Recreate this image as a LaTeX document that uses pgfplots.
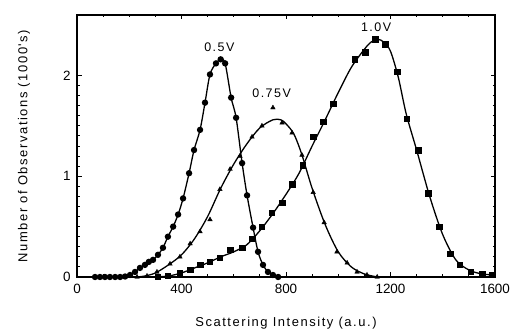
\documentclass[border=0pt]{standalone}
\usepackage{pgfplots}
\pgfplotsset{compat=1.18}
\usepackage{fontspec}
\setmainfont{Liberation Sans}
\newfontfamily\labfont[LetterSpace=12]{Liberation Sans}
\begin{document}
\begin{tikzpicture}[x=1bp,y=1bp]
\begin{axis}[
  scale only axis, width=418bp, height=262bp,
  xmin=0, xmax=1600, ymin=0, ymax=2.6,
  xtick={0,400,800,1200,1600}, ytick={0,1,2},
  minor x tick num=3, minor y tick num=9,
  tick align=inside, major tick length=4.5bp, minor tick length=2.5bp,
  tick style={line width=0.9bp,black},
  axis line style={line width=1.4bp},
  xticklabel style={font=\fontsize{13.5}{15}\selectfont, yshift=-4bp},
  yticklabel style={font=\fontsize{13.5}{15}\selectfont, xshift=-3bp},
  /pgf/number format/assume math mode=true,
  /pgf/number format/set thousands separator={},
  xlabel={Scattering Intensity (a.u.)},
  ylabel={Number of Observations (1000's)},
  xlabel style={font=\labfont\fontsize{13}{15}\selectfont, yshift=-16bp},
  ylabel style={font=\labfont\fontsize{13}{15}\selectfont, yshift=26bp},
  clip=false,
]
% 0.5 V : circles with smooth curve
\addplot[black, line width=1.3bp, smooth, mark=*, mark size=2.5bp] coordinates {
(69,0) (88,0) (107,0) (126,0) (146,0) (165,0) (184,0.005) (203,0.02) (222,0.05)
(241,0.09) (260,0.12) (275,0.15) (291,0.17) (310,0.22) (329,0.29) (348,0.40)
(368,0.50) (387,0.62) (406,0.78) (429,1.03) (448,1.26) (471,1.46) (490,1.73)
(509,2.01) (532,2.12) (550,2.16) (567,2.12) (590,1.78) (609,1.58) (632,1.13)
(651,0.81) (674,0.49) (693,0.25) (712,0.12) (731,0.05) (750,0.02) (770,0)
};
% 0.75 V : fitted curve
\addplot[black, line width=1.3bp, smooth] coordinates {
(230,0) (260,0.01) (300,0.04) (350,0.12) (400,0.22) (450,0.38) (500,0.60)
(550,0.88) (600,1.12) (650,1.32) (700,1.48) (750,1.56) (780,1.56) (800,1.52)
(830,1.42) (860,1.22) (900,0.88) (950,0.52) (1000,0.25) (1050,0.10)
(1100,0.03) (1150,0.0) (1160,0)
};
% 0.75 V : observations
\addplot[black, only marks, mark=triangle*, mark size=2.6bp] coordinates {
(230,0) (268,0.01) (306,0.05) (356,0.13) (394,0.20) (433,0.33) (471,0.45)
(509,0.57) (547,0.87) (586,1.07) (624,1.20) (670,1.39) (708,1.50) (750,1.68)
(785,1.53) (823,1.43) (861,1.21) (904,0.84) (946,0.54) (995,0.25) (1034,0.14)
(1072,0.05) (1110,0.02) (1149,0)
};
% 1.0 V : fitted curve
\addplot[black, line width=1.3bp, smooth] coordinates {
(300,0) (350,0.01) (400,0.04) (450,0.09) (500,0.14) (550,0.20) (600,0.25)
(650,0.32) (700,0.46) (750,0.63) (800,0.82) (850,1.03) (900,1.30) (950,1.56)
(1000,1.83) (1050,2.08) (1100,2.26) (1125,2.33) (1150,2.36) (1175,2.33)
(1200,2.24) (1230,1.98) (1260,1.62) (1300,1.26) (1350,0.80) (1400,0.42)
(1450,0.17) (1500,0.07) (1550,0.03) (1600,0.02)
};
% 1.0 V : observations
\addplot[black, only marks, mark=square*, mark size=2.7bp] coordinates {
(310,0) (348,0.01) (394,0.04) (433,0.07) (471,0.12) (509,0.15) (547,0.19)
(586,0.27) (632,0.29) (670,0.38) (708,0.50) (746,0.64) (785,0.74) (823,0.92)
(865,1.11) (904,1.39) (942,1.54) (980,1.72) (1064,2.16) (1103,2.23)
(1141,2.36) (1179,2.31) (1225,2.04) (1263,1.57) (1306,1.26) (1344,0.83)
(1386,0.50) (1428,0.23) (1466,0.12) (1508,0.05) (1551,0.03) (1589,0.02)
};
\node[font=\labfont\fontsize{12.5}{14}\selectfont] at (axis cs:545,2.28) {0.5V};
\node[font=\labfont\fontsize{12.5}{14}\selectfont] at (axis cs:745,1.82) {0.75V};
\node[font=\labfont\fontsize{12.5}{14}\selectfont] at (axis cs:1145,2.48) {1.0V};
\end{axis}
\path (current axis.south west) ++(-77bp,-55bp) (current axis.north east) ++(20bp,15bp);
\end{tikzpicture}
\end{document}
